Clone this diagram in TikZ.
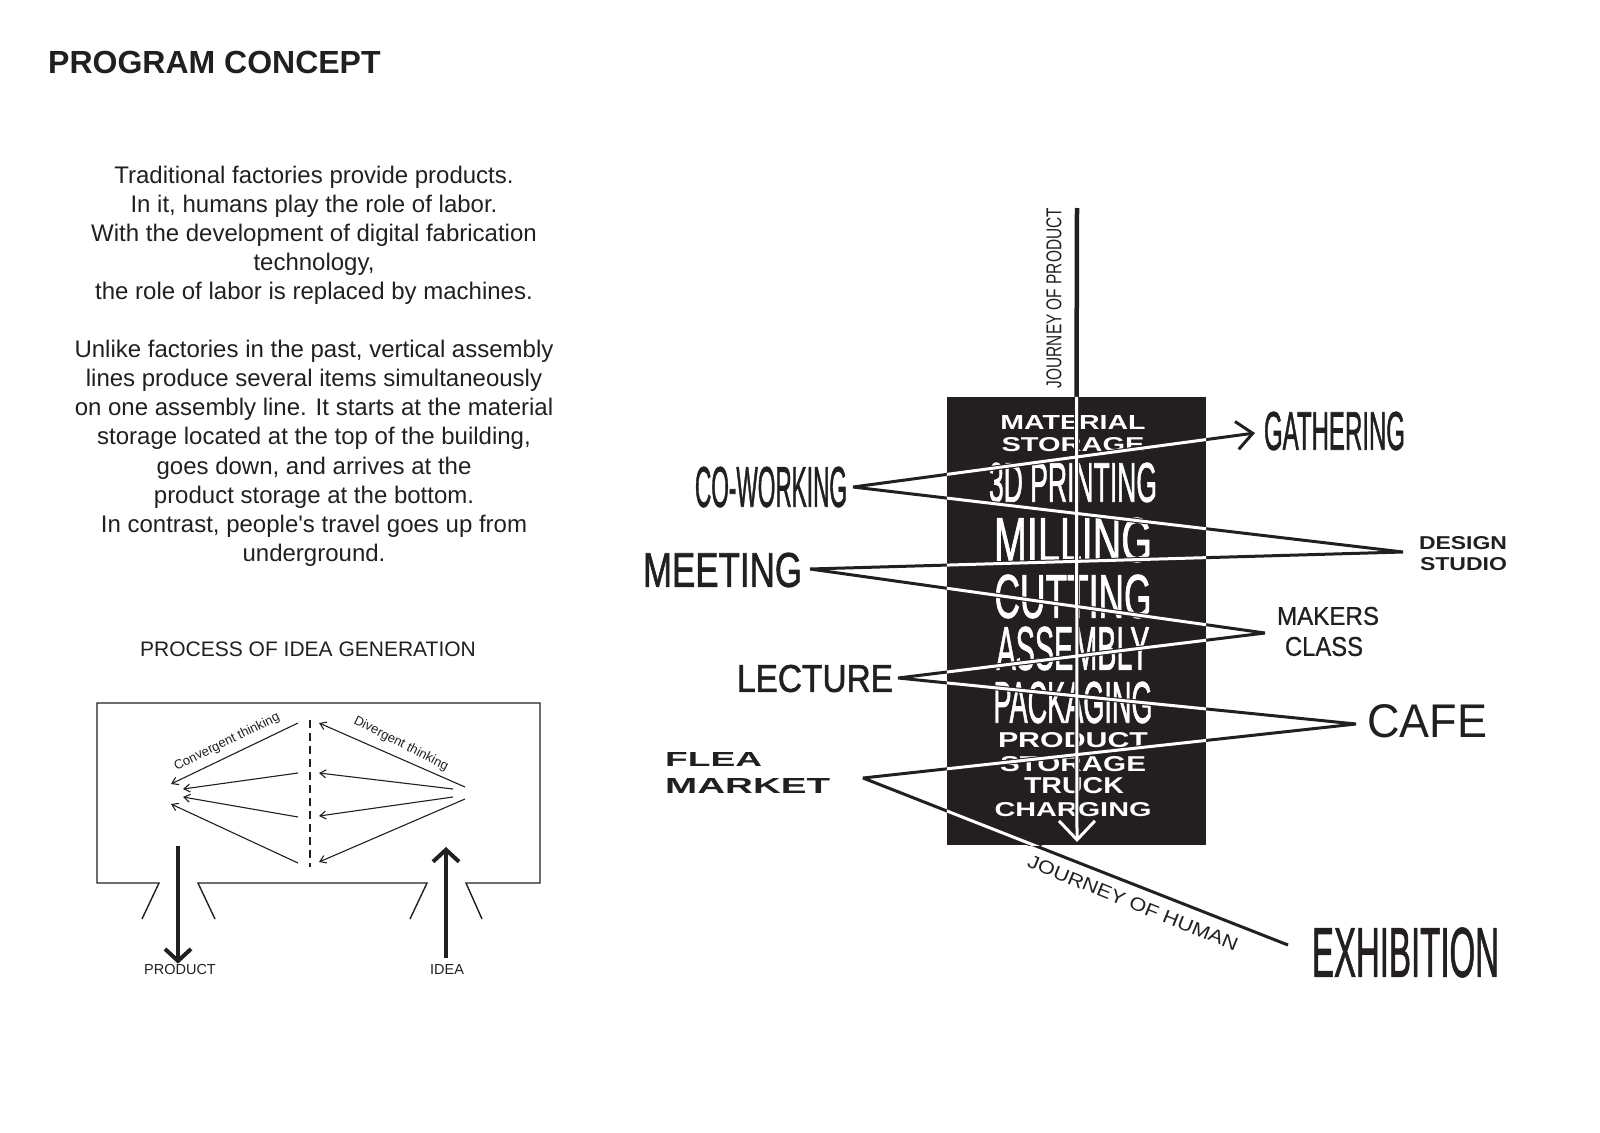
\documentclass[tikz,border=0pt]{standalone}
\usepackage{fontspec}
\setmainfont{Liberation Sans}
\newfontfamily\heavyfont{Liberation Sans}[FakeBold=1.6]
\newfontfamily\semifont{Liberation Sans}[FakeBold=0.8]
\usepackage{graphicx}
\usetikzlibrary{arrows.meta}
\definecolor{ink}{HTML}{231F20}
\newcommand{\fitto}[3]{\resizebox{#1pt}{#2pt}{#3}}

\begin{document}
\begin{tikzpicture}[
  x=1pt, y=-1pt,
  every node/.style={inner sep=0pt, text=ink},
  floor/.style={inner sep=0pt, text=white},
  wide/.style={font=\bfseries},
  narrow/.style={font=\heavyfont},
  frame/.style={draw=ink, line width=1.4pt, line join=miter},
  idea/.style={draw=ink, line width=1.1pt, -{Straight Barb[length=6pt,width=8pt]}},
  bigarrow/.style={draw=ink, line width=4pt, -{Straight Barb[length=12pt,width=26pt]}},
  zig/.style={draw=ink, line width=3pt, line join=bevel},
]
\useasboundingbox (0,0) rectangle (1600,1132);

% left column
\node[anchor=base west, font=\bfseries\fontsize{32}{36}\selectfont] (title) at (48,73.5) {PROGRAM CONCEPT};
\node[anchor=north, align=center, font=\fontsize{24}{29.1}\selectfont] (intro) at (314,165.5)
  {Traditional factories provide products.\\
   In it, humans play the role of labor.\\
   With the development of digital fabrication\\
   technology,\\
   the role of labor is replaced by machines.\\[29.1pt]
   Unlike factories in the past, vertical assembly\\
   lines produce several items simultaneously\\
   on one assembly line. It starts at the material\\
   storage located at the top of the building,\\
   goes down, and arrives at the\\
   product storage at the bottom.\\
   In contrast, people\textquotesingle s travel goes up from\\
   underground.};
\node[font=\fontsize{21}{25}\selectfont] (process) at (308,649) {PROCESS OF IDEA GENERATION};

% idea generation box
\draw[frame] (142,919) -- (159,883) -- (97,883) -- (97,703) -- (540,703) -- (540,883) -- (466,883) -- (482,919);
\draw[frame] (215,919) -- (198,883) -- (427,883) -- (410,919);
\draw[ink, line width=1.1pt, dash pattern=on 8pt off 5pt] (310,720) -- (310,867);

\coordinate (cL1) at (171,784); \coordinate (cM1) at (298,723);
\coordinate (cL2) at (183,789); \coordinate (cM2) at (298,773);
\coordinate (cL3) at (183,797); \coordinate (cM3) at (298,817);
\coordinate (cL4) at (171,804); \coordinate (cM4) at (298,863);
\coordinate (dR1) at (465,787); \coordinate (dM1) at (319,723);
\coordinate (dR2) at (453,789); \coordinate (dM2) at (319,773);
\coordinate (dR3) at (453,797); \coordinate (dM3) at (319,816);
\coordinate (dR4) at (465,799); \coordinate (dM4) at (319,862);
\foreach \i in {1,...,4} {
  \draw[idea] (cM\i) -- (cL\i);
  \draw[idea] (dR\i) -- (dM\i);
}
\node[rotate=26, font=\fontsize{13}{15}\selectfont] (conv) at (227,742) {Convergent thinking};
\node[rotate=-27, font=\fontsize{13}{15}\selectfont] (div) at (401,744) {Divergent thinking};

\coordinate (outTop) at (178,846);
\coordinate (inBot) at (446,958);
\node[font=\fontsize{14.5}{16}\selectfont] (product) at (180,969) {PRODUCT};
\node[font=\fontsize{14.5}{16}\selectfont] (ideain) at (447,969) {IDEA};
\draw[bigarrow] (outTop) -- (product.north -| outTop);
\draw[bigarrow] (inBot) -- (446,847);

% tower
\node[fill=ink, minimum width=259pt, minimum height=448pt] (tower) at (1076.5,621) {};
\node[floor, wide] (mat)   at (1073,422)   {\fitto{145}{14}{MATERIAL}};
\node[floor, wide] (matst) at (1073,445)   {\fitto{143}{14}{STORAGE}};
\node[floor, narrow] (print) at (1073,482.5) {\fitto{168}{39}{3D PRINTING}};
\node[floor, narrow] (mill)  at (1073,540)   {\fitto{158}{44}{MILLING}};
\node[floor, narrow] (cut)   at (1073,596.5) {\fitto{157}{43}{CUTTING}};
\node[floor, narrow] (assy)  at (1073,648.5) {\fitto{153}{43}{ASSEMBLY}};
\node[floor, narrow] (pack)  at (1073,702.5) {\fitto{159}{41}{PACKAGING}};
\node[floor, wide] (prod)  at (1073,740.5) {\fitto{150}{15}{PRODUCT}};
\node[floor, wide] (prodst) at (1073,764.5) {\fitto{146}{15}{STORAGE}};
\node[floor, wide] (truck) at (1074,786)   {\fitto{100}{16}{TRUCK}};
\node[floor, wide] (charge) at (1073,810)  {\fitto{157}{14}{CHARGING}};

% programs
\node[narrow] (cowork)  at (771,487)   {\fitto{152}{40}{CO-WORKING}};
\node[narrow] (meeting) at (722.5,570) {\fitto{159}{34}{MEETING}};
\node[narrow] (lecture) at (815,678.5) {\fitto{156}{27}{LECTURE}};
\node[wide, anchor=west] (flea)   at (665,759)   {\fitto{97}{14}{FLEA}};
\node[wide, anchor=west] (market) at (665,785.5) {\fitto{165}{15}{MARKET}};
\node[narrow] (gather)  at (1334.5,431) {\fitto{141}{38}{GATHERING}};
\node[wide] (design) at (1463,543)   {\fitto{88}{13}{DESIGN}};
\node[wide] (studio) at (1463.5,564.5) {\fitto{87}{13}{STUDIO}};
\node[font=\semifont] (makers)  at (1328,616)  {\fitto{102}{18}{MAKERS}};
\node[font=\semifont] (class)   at (1324,646.5) {\fitto{78}{19}{CLASS}};
\node (cafe)    at (1427,721.5) {\fitto{120}{33}{CAFE}};
\node[narrow] (exhib)   at (1405.5,952.5) {\fitto{187}{49}{EXHIBITION}};

\node[rotate=90] (prodlbl) at (1054,298) {\fitto{180}{15}{JOURNEY OF PRODUCT}};
\node[rotate=-22] (humanlbl) at (1133,903) {\fitto{225}{13}{JOURNEY OF HUMAN}};

% journeys
\coordinate (prodTop) at (1077,208);
\coordinate (prodEnd) at (1077,842);
\coordinate (vExhib)   at (1288,945);
\coordinate (vFlea)    at (863,778);
\coordinate (vCafe)    at (1356,724);
\coordinate (vLecture) at (898,678);
\coordinate (vMakers)  at (1265,633);
\coordinate (vMeeting) at (810,569);
\coordinate (vDesign)  at (1403,552);
\coordinate (vCowork)  at (853,487);
\coordinate (vGather)  at (1255,433);

\draw[ink, line width=4.5pt] (prodTop) -- (tower.north);
\draw[zig, -{Straight Barb[length=16pt,width=28pt]}] (vExhib) -- (vFlea) -- (vCafe) -- (vLecture)
  -- (vMakers) -- (vMeeting) -- (vDesign) -- (vCowork) -- (vGather);
\begin{scope}
  \clip (tower.south west) rectangle (tower.north east);
  \draw[ink, line width=5pt, line join=bevel] (vExhib) -- (vFlea) -- (vCafe) -- (vLecture)
    -- (vMakers) -- (vMeeting) -- (vDesign) -- (vCowork) -- (vGather);
  \draw[ink, line width=5pt, -{Straight Barb[length=19pt,width=36pt]}] (tower.north) -- (prodEnd);
  \draw[white, line width=3pt, line join=bevel] (vExhib) -- (vFlea) -- (vCafe) -- (vLecture)
    -- (vMakers) -- (vMeeting) -- (vDesign) -- (vCowork) -- (vGather);
  \draw[white, line width=3pt, -{Straight Barb[length=19pt,width=36pt]}] (tower.north) -- (prodEnd);
\end{scope}
\end{tikzpicture}
\end{document}
